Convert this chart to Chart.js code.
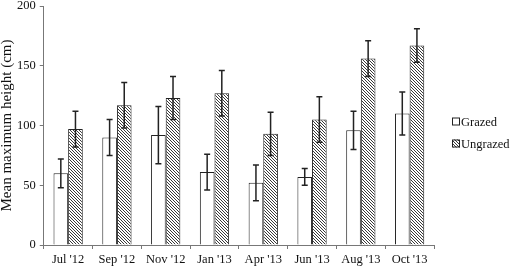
<!DOCTYPE html>
<html>
<head>
<meta charset="utf-8">
<script src="https://cdn.jsdelivr.net/npm/chart.js@4.4.0/dist/chart.umd.min.js"></script>
<style>
  body { margin: 0; background: #fff; }
  #wrap { width: 510px; height: 266px; }
</style>
</head>
<body>
<div id="wrap"><canvas id="chart" width="510" height="266"></canvas></div>
<script>
const months = ["Jul '12", "Sep '12", "Nov '12", "Jan '13", "Apr '13", "Jun '13", "Aug '13", "Oct '13"];
const grazed = [60, 90, 92, 61, 52, 57, 96, 110];
const grazedErr = [12, 15, 24, 15, 15, 7, 16, 18];
const ungrazed = [97, 117, 123, 127, 93, 105, 156, 167];
const ungrazedErr = [15, 19, 18, 19, 18, 19, 15, 14];
const yTicks = [0, 50, 100, 150, 200];

const serif = "'Liberation Serif', serif";
Chart.defaults.font.family = serif;
Chart.defaults.color = '#111';

// diagonal hatch for the ungrazed bars
function makeHatch() {
    const c = document.createElement('canvas');
    c.width = 3; c.height = 3;
    const g = c.getContext('2d');
    g.fillStyle = '#fff';
    g.fillRect(0, 0, 3, 3);
    g.strokeStyle = '#222';
    g.lineWidth = 0.9;
    g.beginPath();
    g.moveTo(-1, -1); g.lineTo(4, 4);
    g.moveTo(-1, 2); g.lineTo(1, 4);
    g.moveTo(2, -1); g.lineTo(4, 1);
    g.stroke();
    return g.createPattern(c, 'repeat');
}

const errorBars = {
    id: 'errorBars',
    afterDatasetsDraw(chart) {
        const ctx = chart.ctx;
        const y = chart.scales.y;
        const errs = [grazedErr, ungrazedErr];
        ctx.save();
        ctx.strokeStyle = '#222';
        ctx.lineWidth = 1.5;
        chart.data.datasets.forEach((ds, i) => {
            chart.getDatasetMeta(i).data.forEach((bar, j) => {
                const v = ds.data[j];
                const top = y.getPixelForValue(v + errs[i][j]);
                const bot = y.getPixelForValue(v - errs[i][j]);
                const x = bar.x;
                ctx.beginPath();
                ctx.moveTo(x, top); ctx.lineTo(x, bot);
                ctx.moveTo(x - 3, top); ctx.lineTo(x + 3, top);
                ctx.moveTo(x - 3, bot); ctx.lineTo(x + 3, bot);
                ctx.stroke();
            });
        });
        ctx.restore();
    }
};

// legend on the right, box tight against the text
const sideLegend = {
    id: 'sideLegend',
    afterDraw(chart) {
        const ctx = chart.ctx;
        const x0 = chart.chartArea.right + 18;
        const yMid = (chart.chartArea.top + chart.chartArea.bottom) / 2 + 7;
        ctx.save();
        ctx.font = '12.5px ' + serif;
        ctx.textBaseline = 'middle';
        chart.data.datasets.forEach((ds, i) => {
            const yy = yMid + (i - 0.5) * 22;
            ctx.fillStyle = ds.backgroundColor;
            ctx.fillRect(x0, yy - 4, 8, 8);
            ctx.strokeStyle = '#222';
            ctx.lineWidth = 1;
            ctx.strokeRect(x0 + 0.5, yy - 3.5, 7, 7);
            ctx.fillStyle = '#111';
            ctx.fillText(ds.label, x0 + 9, yy + 1);
        });
        ctx.restore();
    }
};

new Chart(document.getElementById('chart'), {
    type: 'bar',
    data: {
        labels: months,
        datasets: [
            {
                label: 'Grazed',
                data: grazed,
                backgroundColor: '#fff',
                borderColor: '#222',
                borderWidth: 1,
                categoryPercentage: 0.6,
                barPercentage: 1
            },
            {
                label: 'Ungrazed',
                data: ungrazed,
                backgroundColor: makeHatch(),
                borderColor: '#222',
                borderWidth: 1,
                categoryPercentage: 0.6,
                barPercentage: 1
            }
        ]
    },
    options: {
        responsive: false,
        animation: false,
        layout: { padding: { top: 0, right: 76, left: 1, bottom: -4 } },
        plugins: {
            legend: { display: false },
            tooltip: { enabled: false }
        },
        scales: {
            x: {
                grid: {
                    display: true,
                    drawOnChartArea: false,
                    offset: true,
                    tickLength: 4,
                    color: '#777'
                },
                border: { color: '#777', width: 1 },
                ticks: {
                    color: '#111',
                    font: { family: serif, size: 12.5 },
                    maxRotation: 0,
                    padding: 3
                }
            },
            y: {
                min: 0,
                max: 200,
                afterBuildTicks: (scale) => { scale.ticks = yTicks.map(v => ({ value: v })); },
                afterFit: (scale) => { scale.paddingTop = 6; },
                grid: {
                    display: true,
                    drawOnChartArea: false,
                    tickLength: 4,
                    color: '#777'
                },
                border: { color: '#777', width: 1 },
                ticks: {
                    color: '#111',
                    font: { family: serif, size: 12.5, lineHeight: 0.9 },
                    padding: 4
                },
                title: {
                    display: true,
                    text: 'Mean maximum height (cm)',
                    color: '#111',
                    font: { family: serif, size: 15, lineHeight: 0.8 },
                    padding: 0
                }
            }
        }
    },
    plugins: [errorBars, sideLegend]
});
</script>
</body>
</html>
